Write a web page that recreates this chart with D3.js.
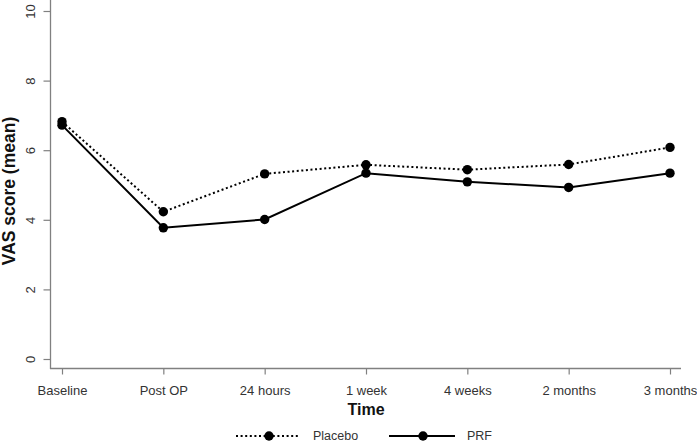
<!DOCTYPE html>
<html>
<head>
<meta charset="utf-8">
<script src="https://cdn.jsdelivr.net/npm/d3@7"></script>
<style>
  html, body { margin: 0; padding: 0; background: #fff; }
  svg { display: block; font-family: "Liberation Sans", Arial, Helvetica, sans-serif; }
</style>
</head>
<body>
<svg id="chart" width="697" height="443"></svg>
<script>
const categories = ["Baseline", "Post OP", "24 hours", "1 week", "4 weeks", "2 months", "3 months"];
const placebo = [6.82, 4.23, 5.32, 5.58, 5.44, 5.59, 6.08];
const prf = [6.72, 3.77, 4.01, 5.34, 5.09, 4.93, 5.34];
const yTicks = [0, 2, 4, 6, 8, 10];
const seriesNames = ["Placebo", "PRF"];

const svg = d3.select("#chart");
const x = d3.scalePoint().domain(categories).range([62, 670]);
const y = d3.scaleLinear().domain([0, 10]).range([359, 11]);

const axisColor = "#808080";
const textColor = "#333";

// Axis lines (L-shaped frame)
svg.append("line").attr("x1", 50.5).attr("x2", 50.5).attr("y1", 0).attr("y2", 369)
  .attr("stroke", axisColor).attr("stroke-width", 1.3);
svg.append("line").attr("x1", 50).attr("x2", 681).attr("y1", 368.5).attr("y2", 368.5)
  .attr("stroke", axisColor).attr("stroke-width", 1.3);

// Y axis
const gy = svg.append("g").attr("transform", "translate(50.5,0)")
  .call(d3.axisLeft(y).tickValues(yTicks).tickSize(7).tickSizeOuter(0).tickFormat(d3.format("d")));
gy.select(".domain").remove();
gy.selectAll(".tick line").attr("stroke", axisColor).attr("stroke-width", 1.2);
gy.selectAll(".tick text")
  .attr("x", 0).attr("y", 0).attr("dy", null)
  .attr("transform", "translate(-15.5,0) rotate(-90)")
  .attr("text-anchor", "middle")
  .attr("fill", textColor)
  .style("font-size", "13px")
  .style("font-family", "'Liberation Sans', Arial, sans-serif");

// X axis
const gx = svg.append("g").attr("transform", "translate(0,368.5)")
  .call(d3.axisBottom(x).tickSize(6).tickSizeOuter(0));
gx.select(".domain").remove();
gx.selectAll(".tick line").attr("stroke", axisColor).attr("stroke-width", 1.2);
gx.selectAll(".tick text")
  .attr("y", 0).attr("dy", null)
  .attr("transform", "translate(0,26.5)")
  .attr("fill", textColor)
  .style("font-size", "13px")
  .style("font-family", "'Liberation Sans', Arial, sans-serif");

// Axis titles
svg.append("text").attr("x", 366).attr("y", 415)
  .attr("text-anchor", "middle").attr("font-weight", "bold").attr("font-size", 16)
  .attr("fill", "#111").text("Time");
svg.append("text")
  .attr("transform", "translate(15,191) rotate(-90)")
  .attr("text-anchor", "middle").attr("font-weight", "bold").attr("font-size", 17.5)
  .attr("fill", "#111").text("VAS score (mean)");

// Series
const line = d3.line().x((d, i) => x(categories[i])).y(d => y(d));
const seriesData = [placebo, prf];
const dashes = ["2,2.6", null];

seriesData.forEach((vals, si) => {
  svg.append("path").datum(vals)
    .attr("d", line)
    .attr("fill", "none")
    .attr("stroke", "#000")
    .attr("stroke-width", 2)
    .attr("stroke-dasharray", dashes[si]);
});
seriesData.forEach((vals) => {
  svg.append("g").selectAll("circle").data(vals).join("circle")
    .attr("cx", (d, i) => x(categories[i]))
    .attr("cy", d => y(d))
    .attr("r", 4.7)
    .attr("fill", "#000");
});

// Legend
const legendItems = [
  { x1: 236, x2: 300, mx: 269, tx: 313 },
  { x1: 389, x2: 455, mx: 423, tx: 467 }
];
const ly = 436;
legendItems.forEach((it, i) => {
  svg.append("line").attr("x1", it.x1).attr("x2", it.x2).attr("y1", ly).attr("y2", ly)
    .attr("stroke", "#000").attr("stroke-width", 2).attr("stroke-dasharray", dashes[i]);
  svg.append("circle").attr("cx", it.mx).attr("cy", ly).attr("r", 4.7).attr("fill", "#000");
  svg.append("text").attr("x", it.tx).attr("y", ly + 3.5)
    .attr("font-size", 12.5).attr("fill", textColor).text(seriesNames[i]);
});
</script>
</body>
</html>
